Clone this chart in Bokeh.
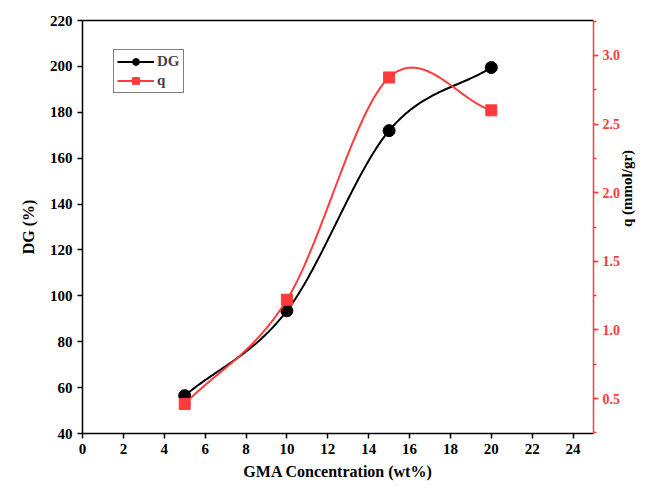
import math
import numpy as np
from bokeh.plotting import figure
from bokeh.models import (Range1d, LinearAxis, SingleIntervalTicker, Legend, LegendItem,
                          NumeralTickFormatter)
from bokeh.embed import file_html
from bokeh.resources import INLINE

# ---- data ----
gma = [5, 10, 15, 20]
dg = [56.5, 93.5, 172.0, 199.5]
q = [0.46, 1.22, 2.84, 2.60]

RED = "#FF3B3B"
FONT = "Liberation Serif"


def smooth_curve(x, y, n=60):
    """Catmull-Rom style Hermite curve through the data points (rendering only)."""
    x = np.asarray(x, float)
    y = np.asarray(y, float)
    k = len(x)
    m = np.empty(k)
    m[0] = (y[1] - y[0]) / (x[1] - x[0])
    m[-1] = (y[-1] - y[-2]) / (x[-1] - x[-2])
    for i in range(1, k - 1):
        m[i] = (y[i + 1] - y[i - 1]) / (x[i + 1] - x[i - 1])
    xs, ys = [], []
    for i in range(k - 1):
        h = x[i + 1] - x[i]
        t = np.linspace(0, 1, n, endpoint=(i == k - 2))
        h00 = 2 * t ** 3 - 3 * t ** 2 + 1
        h10 = t ** 3 - 2 * t ** 2 + t
        h01 = -2 * t ** 3 + 3 * t ** 2
        h11 = t ** 3 - t ** 2
        xs.extend(x[i] + t * h)
        ys.extend(h00 * y[i] + h10 * h * m[i] + h01 * y[i + 1] + h11 * h * m[i + 1])
    return xs, ys


p = figure(width=646, height=486, output_backend="svg", toolbar_location=None,
           x_range=Range1d(0, 25), y_range=Range1d(40, 220),
           min_border_left=82, min_border_right=52, min_border_top=20, min_border_bottom=53)
p.extra_y_ranges = {"q": Range1d(0.245, 3.255)}
p.outline_line_color = None
p.xgrid.visible = False
p.ygrid.visible = False


def style_axis(ax, color="black"):
    ax.axis_line_color = color
    ax.axis_line_width = 1.5
    ax.major_tick_line_color = color
    ax.major_tick_line_width = 1.5
    ax.minor_tick_line_color = color
    ax.minor_tick_line_width = 1.5
    ax.major_tick_in = 0
    ax.major_tick_out = 5
    ax.minor_tick_in = 0
    ax.minor_tick_out = 3
    ax.major_label_text_font = FONT
    ax.major_label_text_font_style = "bold"
    ax.major_label_text_font_size = "15px"
    ax.major_label_text_color = color
    ax.axis_label_text_font = FONT
    ax.axis_label_text_font_style = "bold"
    ax.axis_label_text_font_size = "16px"
    ax.axis_label_text_color = "black"


p.xaxis.ticker = SingleIntervalTicker(interval=2, num_minor_ticks=0)
p.yaxis.ticker = SingleIntervalTicker(interval=20, num_minor_ticks=0)
style_axis(p.xaxis[0])
style_axis(p.yaxis[0])
p.xaxis.axis_label = "GMA Concentration (wt%)"
p.yaxis.axis_label = "DG (%)"
p.xaxis.major_label_standoff = 5
p.xaxis.axis_label_standoff = 6
p.yaxis.axis_label_standoff = 10

raxis = LinearAxis(y_range_name="q", axis_label="q (mmol/gr)",
                   ticker=SingleIntervalTicker(interval=0.5, num_minor_ticks=2),
                   formatter=NumeralTickFormatter(format="0.0"))
style_axis(raxis, RED)
raxis.major_label_text_font_size = "14px"
raxis.axis_label_text_font_size = "15px"
raxis.major_label_standoff = 4
raxis.axis_label_standoff = 4
try:
    raxis.axis_label_orientation = math.pi / 2
except Exception:
    pass
p.add_layout(raxis, "right")

top = LinearAxis(major_tick_line_color=None, minor_tick_line_color=None,
                 major_label_text_font_size="0px", axis_line_color="black",
                 axis_line_width=1.5)
top.major_label_text_color = None
p.add_layout(top, "above")

xs, ys = smooth_curve(gma, dg)
l1 = p.line(xs, ys, line_color="black", line_width=2)
s1 = p.scatter(gma, dg, marker="circle", size=12, fill_color="black", line_color="black")

xq, yq = smooth_curve(gma, q)
l2 = p.line(xq, yq, line_color=RED, line_width=2, y_range_name="q")
s2 = p.scatter(gma, q, marker="square", size=11, fill_color=RED, line_color=RED,
               y_range_name="q")

legend = Legend(items=[LegendItem(label="DG", renderers=[l1, s1]),
                       LegendItem(label="q", renderers=[l2, s2])],
                location=(31, 340))
legend.label_text_font = FONT
legend.label_text_font_style = "bold"
legend.label_text_font_size = "15px"
legend.glyph_width = 37
legend.glyph_height = 17
legend.label_height = 17
legend.spacing = 2
legend.padding = 3
legend.margin = 0
legend.label_standoff = 3
legend.border_line_color = "black"
legend.border_line_width = 1
p.add_layout(legend, "center")

open("out.html", "w").write(file_html(p, INLINE))
